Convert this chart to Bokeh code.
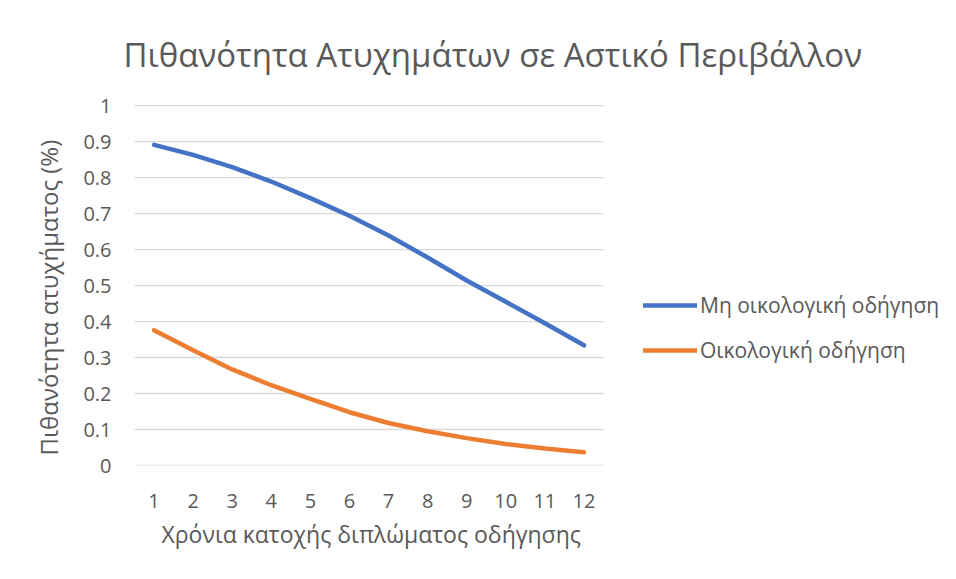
from bokeh.plotting import figure
from bokeh.models import Range1d, FixedTicker, Legend, LegendItem, Title
from bokeh.embed import file_html
from bokeh.resources import INLINE

# ---- data ----
years = [1, 2, 3, 4, 5, 6, 7, 8, 9, 10, 11, 12]
non_eco = [0.891, 0.863, 0.829, 0.789, 0.743, 0.694, 0.639, 0.578, 0.514, 0.455, 0.395, 0.334]
eco = [0.376, 0.320, 0.267, 0.223, 0.185, 0.148, 0.118, 0.095, 0.076, 0.060, 0.047, 0.037]
y_ticks = [0, 0.1, 0.2, 0.3, 0.4, 0.5, 0.6, 0.7, 0.8, 0.9, 1]
y_tick_labels = ["0", "0.1", "0.2", "0.3", "0.4", "0.5", "0.6", "0.7", "0.8", "0.9", "1"]
x_tick_labels = [str(v) for v in years]
series_names = ["Μη οικολογική οδήγηση", "Οικολογική οδήγηση"]
title_text = "Πιθανότητα Ατυχημάτων σε Αστικό Περιβάλλον"
x_label = "Χρόνια κατοχής διπλώματος οδήγησης"
y_label = "Πιθανότητα ατυχήματος (%)"

FONT = "Open Sans"
TXT = "#595959"
GRID = "#D9D9D9"
BLUE = "#4472C4"
ORANGE = "#ED7D31"

# layout (pixels)
W, H = 948, 571
LEFT, TOP, BOTTOM = 134, 104, 106
PLOT_W = 469                      # width of the visible chart area
FRAME_W = W - LEFT                # frame extends under the legend area
x0, x1 = 0.5, len(years) + 0.5
x_end = x0 + (x1 - x0) * FRAME_W / PLOT_W

p = figure(width=W, height=H, output_backend="svg", toolbar_location=None,
           x_range=Range1d(x0, x_end), y_range=Range1d(0, 1.003),
           min_border_left=LEFT, min_border_right=0, min_border_top=TOP, min_border_bottom=BOTTOM)
p.outline_line_color = None
p.background_fill_color = "white"
p.border_fill_color = "white"
p.xgrid.grid_line_color = None
p.ygrid.grid_line_color = None

# horizontal gridlines limited to the chart area
p.segment(x0=[x0] * len(y_ticks), x1=[x1] * len(y_ticks), y0=y_ticks, y1=y_ticks,
          line_color=GRID, line_width=1.3)

r1 = p.line(years, non_eco, line_color=BLUE, line_width=4.5, line_cap="round", line_join="round")
r2 = p.line(years, eco, line_color=ORANGE, line_width=4.5, line_cap="round", line_join="round")

# title
p.title.text = title_text
p.title.align = "left"
p.title.offset = -11
p.title.standoff = 55
p.title.text_font = FONT
p.title.text_font_size = "33px"
p.title.text_font_style = "normal"
p.title.text_color = TXT

# axes
p.xaxis.ticker = FixedTicker(ticks=years)
p.xaxis.major_label_overrides = {y: l for y, l in zip(years, x_tick_labels)}
p.yaxis.ticker = FixedTicker(ticks=y_ticks)
p.yaxis.major_label_overrides = {t: l for t, l in zip(y_ticks, y_tick_labels)}
for ax in (p.xaxis, p.yaxis):
    ax.axis_line_color = None
    ax.major_tick_line_color = None
    ax.minor_tick_line_color = None
    ax.major_label_text_font = FONT
    ax.major_label_text_font_size = "20px"
    ax.major_label_text_color = TXT
p.xaxis.major_label_standoff = 22
p.yaxis.major_label_standoff = 17

# y-axis title (slightly below the frame centre, as in the original)
yt = Title(text=y_label, align="left", offset=10, standoff=32, text_font=FONT,
           text_font_size="24px", text_font_style="normal", text_color=TXT)
p.add_layout(yt, "left")

# x-axis title placed under the chart area
xt = Title(text=x_label, align="left", offset=27, standoff=10, text_font=FONT,
           text_font_size="23px", text_font_style="normal", text_color=TXT)
p.add_layout(xt, "below")

legend = Legend(items=[LegendItem(label=series_names[0], renderers=[r1]),
                       LegendItem(label=series_names[1], renderers=[r2])],
                location=(509, 101), orientation="vertical")
legend.glyph_width = 54
legend.glyph_height = 20
legend.label_height = 20
legend.label_standoff = 3
legend.spacing = 17
legend.padding = 0
legend.margin = 0
legend.border_line_color = None
legend.background_fill_alpha = 0
legend.label_text_font = FONT
legend.label_text_font_size = "21px"
legend.label_text_color = TXT
p.add_layout(legend, "center")

open("out.html", "w").write(file_html(p, INLINE))
